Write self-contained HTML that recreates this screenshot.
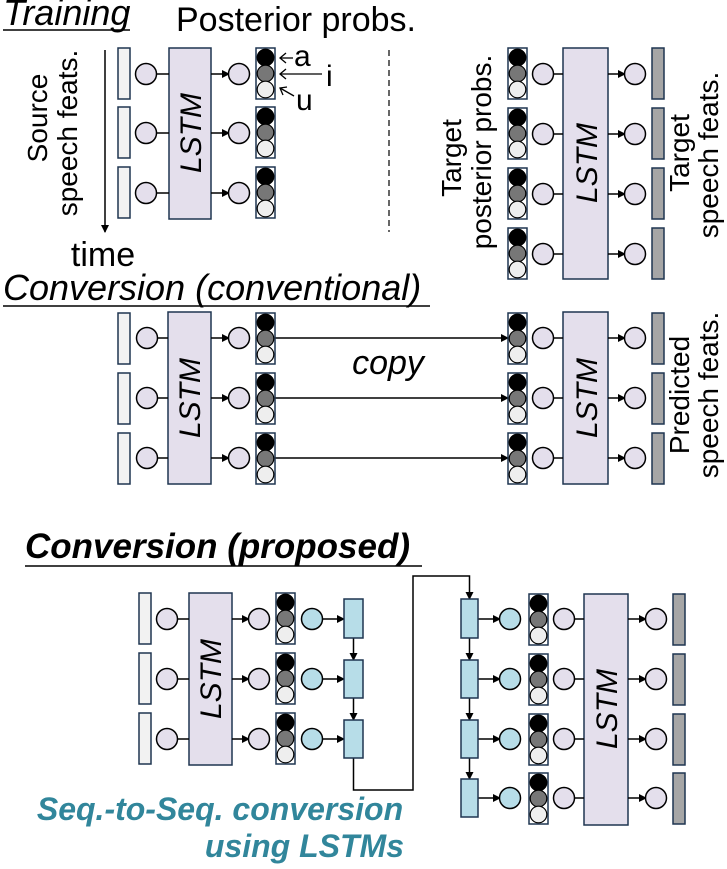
<!DOCTYPE html>
<html><head><meta charset="utf-8"><style>
html,body{margin:0;padding:0;background:#fff;}
svg{display:block;font-family:"Liberation Sans",Arial,sans-serif;}
</style></head><body>
<svg width="727" height="869" viewBox="0 0 727 869" xmlns="http://www.w3.org/2000/svg">
<defs>
<marker id="ah" markerWidth="8" markerHeight="8" refX="7" refY="4" orient="auto" markerUnits="userSpaceOnUse"><path d="M0,0 L8,4 L0,8 Z" fill="#000"/></marker>
<g id="post"><rect x="0" y="0" width="19" height="51" fill="#fff" stroke="#1f3550" stroke-width="1.5"/><circle cx="9.5" cy="9.5" r="8.3" fill="#000" stroke="#000" stroke-width="1.2"/><circle cx="9.5" cy="25.5" r="8.3" fill="#777" stroke="#000" stroke-width="1.2"/><circle cx="9.5" cy="41.5" r="8.3" fill="#eee" stroke="#000" stroke-width="1.2"/></g>
<circle id="pc" cx="0" cy="0" r="10.5" fill="#e4dfec" stroke="#000" stroke-width="1.5"/>
<circle id="bc" cx="0" cy="0" r="10.5" fill="#b7dde8" stroke="#000" stroke-width="1.5"/>
<rect id="ib" x="0" y="0" width="12" height="51" fill="#f2f2f2" stroke="#1f3550" stroke-width="1.5"/>
<rect id="gb" x="0" y="0" width="12" height="51" fill="#a6a6a6" stroke="#1f3550" stroke-width="1.5"/>
</defs>

<!-- TRAINING -->
<text x="3" y="25" font-size="36" font-style="italic">Training</text>
<line x1="3" y1="30" x2="130" y2="30" stroke="#000" stroke-width="1.5"/>
<text x="296" y="31" font-size="34" text-anchor="middle">Posterior probs.</text>
<text transform="translate(47,118) rotate(-90)" font-size="28" text-anchor="middle">Source</text>
<text transform="translate(77,133) rotate(-90)" font-size="28" text-anchor="middle">speech feats.</text>
<line x1="105" y1="50" x2="105" y2="232" stroke="#000" stroke-width="1.5" marker-end="url(#ah)"/>
<text x="103" y="266" font-size="34" text-anchor="middle">time</text>
<rect x="169" y="48" width="42" height="171" fill="#e4dfec" stroke="#1f3550" stroke-width="1.5"/>
<text transform="translate(201,133) rotate(-90)" font-size="30" font-style="italic" text-anchor="middle">LSTM</text>
<g stroke="#000" stroke-width="1.5">
<line x1="157" y1="74" x2="169" y2="74"/><line x1="157" y1="133" x2="169" y2="133"/><line x1="157" y1="193" x2="169" y2="193"/>
<line x1="211" y1="74" x2="229" y2="74" marker-end="url(#ah)"/><line x1="211" y1="133" x2="229" y2="133" marker-end="url(#ah)"/><line x1="211" y1="193" x2="229" y2="193" marker-end="url(#ah)"/>
</g>
<use href="#ib" x="118" y="48"/><use href="#ib" x="118" y="107"/><use href="#ib" x="118" y="167"/>
<use href="#pc" x="146" y="74"/><use href="#pc" x="146" y="133"/><use href="#pc" x="146" y="193"/>
<use href="#pc" x="239" y="74"/><use href="#pc" x="239" y="133"/><use href="#pc" x="239" y="193"/>
<use href="#post" x="256" y="48"/><use href="#post" x="256" y="107"/><use href="#post" x="256" y="167"/>
<g stroke="#000" stroke-width="1.3" fill="none">
<line x1="293" y1="58" x2="280" y2="58"/><path d="M286,53 L280,58 L286,63"/>
<line x1="322" y1="74" x2="280" y2="74"/><path d="M286,69 L280,74 L286,79"/>
<line x1="294" y1="96" x2="280" y2="88"/><path d="M283,95 L280,88 L287,87"/>
</g>
<text x="294" y="66" font-size="30">a</text>
<text x="326" y="86" font-size="30">i</text>
<text x="296" y="110" font-size="30">u</text>
<line x1="389" y1="50" x2="389" y2="232" stroke="#000" stroke-width="1.2" stroke-dasharray="6,4"/>

<!-- TRAINING right -->
<text transform="translate(461,158) rotate(-90)" font-size="28" text-anchor="middle">Target</text>
<text transform="translate(491,152) rotate(-90)" font-size="28" text-anchor="middle">posterior probs.</text>
<rect x="563" y="48" width="45" height="231" fill="#e4dfec" stroke="#1f3550" stroke-width="1.5"/>
<text transform="translate(597,163) rotate(-90)" font-size="30" font-style="italic" text-anchor="middle">LSTM</text>
<g stroke="#000" stroke-width="1.5">
<line x1="553" y1="74" x2="563" y2="74"/><line x1="553" y1="134" x2="563" y2="134"/><line x1="553" y1="194" x2="563" y2="194"/><line x1="553" y1="254" x2="563" y2="254"/>
<line x1="608" y1="74" x2="625" y2="74" marker-end="url(#ah)"/><line x1="608" y1="134" x2="625" y2="134" marker-end="url(#ah)"/><line x1="608" y1="194" x2="625" y2="194" marker-end="url(#ah)"/><line x1="608" y1="254" x2="625" y2="254" marker-end="url(#ah)"/>
</g>
<use href="#post" x="508" y="48"/><use href="#post" x="508" y="108"/><use href="#post" x="508" y="168"/><use href="#post" x="508" y="228"/>
<use href="#pc" x="543" y="74"/><use href="#pc" x="543" y="134"/><use href="#pc" x="543" y="194"/><use href="#pc" x="543" y="254"/>
<use href="#pc" x="635" y="74"/><use href="#pc" x="635" y="134"/><use href="#pc" x="635" y="194"/><use href="#pc" x="635" y="254"/>
<use href="#gb" x="652" y="48"/><use href="#gb" x="652" y="108"/><use href="#gb" x="652" y="168"/><use href="#gb" x="652" y="228"/>
<text transform="translate(689,153) rotate(-90)" font-size="28" text-anchor="middle">Target</text>
<text transform="translate(718,155) rotate(-90)" font-size="28" text-anchor="middle">speech feats.</text>

<!-- CONVENTIONAL -->
<text x="3" y="300" font-size="36" font-style="italic">Conversion (conventional)</text>
<line x1="3" y1="306" x2="430" y2="306" stroke="#000" stroke-width="1.5"/>
<rect x="168" y="312" width="43" height="172" fill="#e4dfec" stroke="#1f3550" stroke-width="1.5"/>
<text transform="translate(200,398) rotate(-90)" font-size="30" font-style="italic" text-anchor="middle">LSTM</text>
<rect x="563" y="312" width="45" height="172" fill="#e4dfec" stroke="#1f3550" stroke-width="1.5"/>
<text transform="translate(597,398) rotate(-90)" font-size="30" font-style="italic" text-anchor="middle">LSTM</text>
<g stroke="#000" stroke-width="1.5">
<line x1="157" y1="338" x2="168" y2="338"/><line x1="157" y1="398" x2="168" y2="398"/><line x1="157" y1="458" x2="168" y2="458"/>
<line x1="211" y1="338" x2="229" y2="338" marker-end="url(#ah)"/><line x1="211" y1="398" x2="229" y2="398" marker-end="url(#ah)"/><line x1="211" y1="458" x2="229" y2="458" marker-end="url(#ah)"/>
<line x1="275" y1="338" x2="508" y2="338" marker-end="url(#ah)"/><line x1="275" y1="398" x2="508" y2="398" marker-end="url(#ah)"/><line x1="275" y1="458" x2="508" y2="458" marker-end="url(#ah)"/>
<line x1="553" y1="338" x2="563" y2="338"/><line x1="553" y1="398" x2="563" y2="398"/><line x1="553" y1="458" x2="563" y2="458"/>
<line x1="608" y1="338" x2="625" y2="338" marker-end="url(#ah)"/><line x1="608" y1="398" x2="625" y2="398" marker-end="url(#ah)"/><line x1="608" y1="458" x2="625" y2="458" marker-end="url(#ah)"/>
</g>
<use href="#ib" x="118" y="313"/><use href="#ib" x="118" y="373"/><use href="#ib" x="118" y="433"/>
<use href="#pc" x="147" y="338"/><use href="#pc" x="147" y="398"/><use href="#pc" x="147" y="458"/>
<use href="#pc" x="239" y="338"/><use href="#pc" x="239" y="398"/><use href="#pc" x="239" y="458"/>
<use href="#post" x="256" y="313"/><use href="#post" x="256" y="373"/><use href="#post" x="256" y="433"/>
<use href="#post" x="508" y="313"/><use href="#post" x="508" y="373"/><use href="#post" x="508" y="433"/>
<use href="#pc" x="543" y="338"/><use href="#pc" x="543" y="398"/><use href="#pc" x="543" y="458"/>
<use href="#pc" x="635" y="338"/><use href="#pc" x="635" y="398"/><use href="#pc" x="635" y="458"/>
<use href="#gb" x="652" y="313"/><use href="#gb" x="652" y="373"/><use href="#gb" x="652" y="433"/>
<text x="388" y="374" font-size="34" font-style="italic" text-anchor="middle">copy</text>
<text transform="translate(689,395) rotate(-90)" font-size="28" text-anchor="middle">Predicted</text>
<text transform="translate(718,395) rotate(-90)" font-size="28" text-anchor="middle">speech feats.</text>

<!-- PROPOSED -->
<text x="25" y="558" font-size="35" font-style="italic" font-weight="bold">Conversion (proposed)</text>
<line x1="25" y1="566" x2="422" y2="566" stroke="#000" stroke-width="1.5"/>
<rect x="189" y="593" width="43" height="172" fill="#e4dfec" stroke="#1f3550" stroke-width="1.5"/>
<text transform="translate(221,679) rotate(-90)" font-size="30" font-style="italic" text-anchor="middle">LSTM</text>
<rect x="584" y="594" width="44" height="231" fill="#e4dfec" stroke="#1f3550" stroke-width="1.5"/>
<text transform="translate(617,709) rotate(-90)" font-size="30" font-style="italic" text-anchor="middle">LSTM</text>
<g stroke="#000" stroke-width="1.5" fill="none">
<line x1="177" y1="619" x2="189" y2="619"/><line x1="177" y1="679" x2="189" y2="679"/><line x1="177" y1="739" x2="189" y2="739"/>
<line x1="232" y1="619" x2="249" y2="619" marker-end="url(#ah)"/><line x1="232" y1="679" x2="249" y2="679" marker-end="url(#ah)"/><line x1="232" y1="739" x2="249" y2="739" marker-end="url(#ah)"/>
<line x1="322" y1="619" x2="344" y2="619" marker-end="url(#ah)"/><line x1="322" y1="679" x2="344" y2="679" marker-end="url(#ah)"/><line x1="322" y1="739" x2="344" y2="739" marker-end="url(#ah)"/>
<line x1="353.5" y1="638" x2="353.5" y2="660" marker-end="url(#ah)"/><line x1="353.5" y1="698" x2="353.5" y2="720" marker-end="url(#ah)"/>
<path d="M353.5,758 L353.5,790 L413,790 L413,576 L469.5,576 L469.5,599" marker-end="url(#ah)"/>
<line x1="469.5" y1="638" x2="469.5" y2="660" marker-end="url(#ah)"/><line x1="469.5" y1="698" x2="469.5" y2="720" marker-end="url(#ah)"/><line x1="469.5" y1="758" x2="469.5" y2="779" marker-end="url(#ah)"/>
<line x1="478" y1="619" x2="500" y2="619" marker-end="url(#ah)"/><line x1="478" y1="679" x2="500" y2="679" marker-end="url(#ah)"/><line x1="478" y1="739" x2="500" y2="739" marker-end="url(#ah)"/><line x1="478" y1="798" x2="500" y2="798" marker-end="url(#ah)"/>
<line x1="574" y1="619" x2="584" y2="619"/><line x1="574" y1="679" x2="584" y2="679"/><line x1="574" y1="739" x2="584" y2="739"/><line x1="574" y1="798" x2="584" y2="798"/>
<line x1="628" y1="619" x2="646" y2="619" marker-end="url(#ah)"/><line x1="628" y1="679" x2="646" y2="679" marker-end="url(#ah)"/><line x1="628" y1="739" x2="646" y2="739" marker-end="url(#ah)"/><line x1="628" y1="798" x2="646" y2="798" marker-end="url(#ah)"/>
</g>
<use href="#ib" x="139" y="593"/><use href="#ib" x="139" y="653"/><use href="#ib" x="139" y="713"/>
<use href="#pc" x="167" y="619"/><use href="#pc" x="167" y="679"/><use href="#pc" x="167" y="739"/>
<use href="#pc" x="259" y="619"/><use href="#pc" x="259" y="679"/><use href="#pc" x="259" y="739"/>
<use href="#post" x="276" y="593"/><use href="#post" x="276" y="653"/><use href="#post" x="276" y="713"/>
<use href="#bc" x="312" y="619"/><use href="#bc" x="312" y="679"/><use href="#bc" x="312" y="739"/>
<g fill="#b7dde8" stroke="#1f3550" stroke-width="1.5">
<rect x="344" y="599" width="19" height="39"/><rect x="344" y="660" width="19" height="38"/><rect x="344" y="720" width="19" height="38"/>
<rect x="461" y="599" width="17" height="39"/><rect x="461" y="660" width="17" height="38"/><rect x="461" y="720" width="17" height="38"/><rect x="461" y="779" width="17" height="38"/>
</g>
<use href="#bc" x="510" y="619"/><use href="#bc" x="510" y="679"/><use href="#bc" x="510" y="739"/><use href="#bc" x="510" y="798"/>
<use href="#post" x="529" y="594"/><use href="#post" x="529" y="654"/><use href="#post" x="529" y="714"/><use href="#post" x="529" y="773"/>
<use href="#pc" x="564" y="619"/><use href="#pc" x="564" y="679"/><use href="#pc" x="564" y="739"/><use href="#pc" x="564" y="798"/>
<use href="#pc" x="656" y="619"/><use href="#pc" x="656" y="679"/><use href="#pc" x="656" y="739"/><use href="#pc" x="656" y="798"/>
<use href="#gb" x="673" y="594"/><use href="#gb" x="673" y="654"/><use href="#gb" x="673" y="714"/><use href="#gb" x="673" y="773"/>
<text x="220" y="820" font-size="32" font-style="italic" font-weight="bold" fill="#31869b" text-anchor="middle">Seq.-to-Seq. conversion</text>
<text x="404" y="857" font-size="32" font-style="italic" font-weight="bold" fill="#31869b" text-anchor="end">using LSTMs</text>
</svg>
</body></html>
